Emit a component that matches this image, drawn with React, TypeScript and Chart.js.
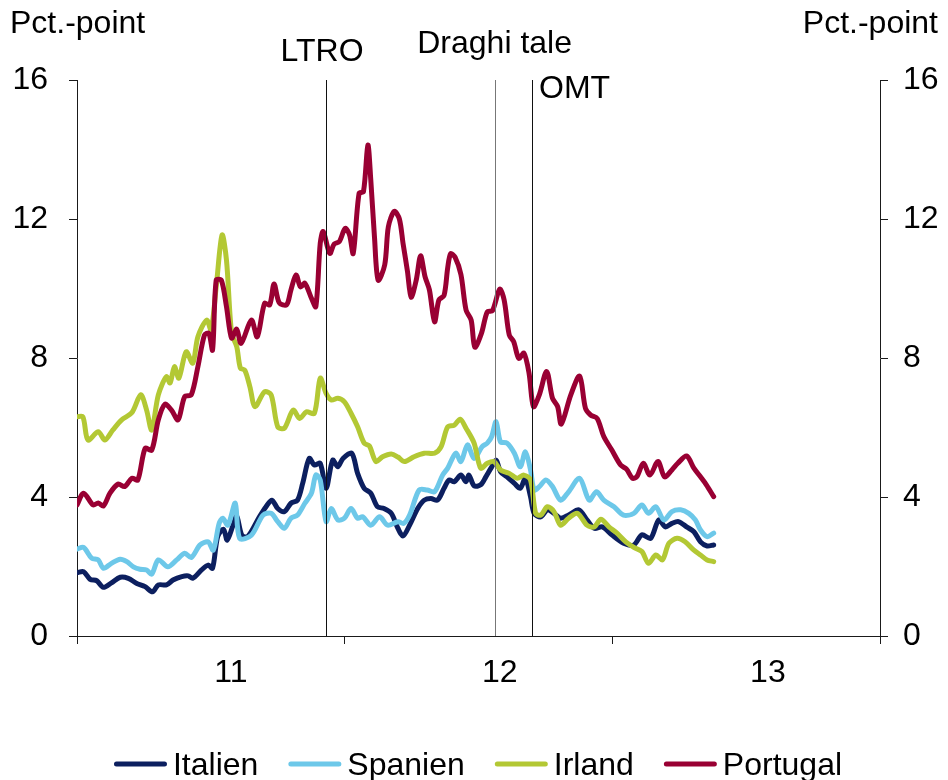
import React, { useEffect, useRef } from "react";
import { Chart, registerables } from "chart.js";

Chart.register(...registerables);

const FONT_FAMILY = "'Liberation Sans', Arial, Helvetica, sans-serif";
const FONT_SIZE = 32;

// x values are days since 2011-01-01
const yearTickDays = [0, 365, 731, 1096];
const yearLabelDays = [210, 577, 943];
const yearLabels = ["11", "12", "13"];
const yTickValues = [0, 4, 8, 12, 16];

const eventNames = ["LTRO", "Draghi tale", "OMT"];
const eventDays = [340, 570, 621];
const eventLineColors = ["#111111", "#777777", "#111111"];

const seriesNames = ["Italien", "Spanien", "Irland", "Portugal"];
const seriesColors = ["#0c1f5f", "#6dc8e9", "#b3c834", "#990033"];

// [day, pct.-point]
const italien: [number, number][] = [
  [0, 1.82], [9, 1.85], [18, 1.63], [27, 1.59], [36, 1.4], [47, 1.53], [59, 1.69], [70, 1.66],
  [81, 1.52], [93, 1.42], [103, 1.27], [111, 1.47], [122, 1.47], [131, 1.61], [143, 1.71],
  [152, 1.73], [158, 1.66], [170, 1.9], [179, 2.04], [185, 1.95], [192, 2.86], [200, 3.07],
  [205, 2.76], [213, 3.19], [218, 3.45], [225, 2.9], [233, 2.86], [249, 3.43], [258, 3.72],
  [266, 3.91], [274, 3.67], [283, 3.58], [292, 3.82], [301, 3.91], [308, 4.39], [317, 5.11],
  [324, 4.92], [332, 4.97], [340, 4.25], [349, 5.06], [356, 4.87], [363, 5.11], [375, 5.26],
  [383, 4.68], [392, 4.25], [401, 4.11], [410, 3.72], [419, 3.67], [429, 3.53], [438, 3.1],
  [445, 2.88], [454, 3.19], [465, 3.67], [474, 3.91], [483, 3.96], [492, 3.91], [501, 4.25],
  [508, 4.49], [515, 4.44], [524, 4.63], [531, 4.44], [535, 4.63], [542, 4.32], [551, 4.35],
  [558, 4.58], [565, 4.83], [572, 5.06], [578, 4.73], [587, 4.58], [597, 4.39], [605, 4.25],
  [612, 4.54], [619, 4.01], [624, 3.53], [633, 3.43], [642, 3.63], [651, 3.53], [660, 3.39],
  [671, 3.48], [685, 3.63], [696, 3.34], [706, 3.1], [717, 3.14], [730, 2.91], [746, 2.67],
  [760, 2.62], [771, 2.91], [783, 2.81], [794, 3.34], [803, 3.14], [812, 3.24], [821, 3.29],
  [832, 3.14], [842, 3.0], [851, 2.71], [860, 2.59], [869, 2.62],
];

const spanien: [number, number][] = [
  [0, 2.5], [9, 2.55], [20, 2.24], [29, 2.19], [36, 1.95], [47, 2.09], [59, 2.21], [68, 2.14],
  [77, 1.99], [86, 1.92], [95, 1.9], [102, 1.78], [111, 2.19], [124, 1.99], [136, 2.19],
  [147, 2.38], [156, 2.26], [168, 2.62], [179, 2.71], [186, 2.47], [194, 3.24], [199, 3.39],
  [206, 3.19], [216, 3.82], [222, 2.81], [238, 2.9], [254, 3.48], [265, 3.53], [274, 3.29],
  [283, 3.1], [292, 3.39], [301, 3.48], [311, 3.82], [320, 4.11], [326, 4.63], [332, 4.49],
  [340, 3.29], [347, 3.67], [356, 3.34], [365, 3.39], [374, 3.67], [383, 3.39], [390, 3.43],
  [401, 3.19], [413, 3.43], [424, 3.19], [438, 3.29], [446, 3.24], [454, 3.48], [467, 4.2],
  [478, 4.2], [488, 4.15], [499, 4.63], [506, 4.83], [517, 5.26], [524, 5.02], [533, 5.5],
  [542, 5.11], [553, 5.45], [560, 5.55], [566, 5.74], [572, 6.17], [578, 5.59], [587, 5.55],
  [597, 5.26], [605, 4.87], [612, 5.3], [619, 4.78], [624, 4.2], [631, 4.3], [640, 4.49],
  [649, 4.3], [660, 3.91], [671, 4.15], [686, 4.54], [699, 3.91], [709, 4.15], [719, 3.91],
  [733, 3.72], [746, 3.48], [760, 3.53], [771, 3.77], [780, 3.53], [790, 3.72], [801, 3.34],
  [812, 3.58], [824, 3.63], [835, 3.53], [844, 3.34], [851, 3.05], [860, 2.86], [869, 2.96],
];

const irland: [number, number][] = [
  [0, 6.31], [8, 6.31], [15, 5.64], [29, 5.88], [38, 5.64], [49, 5.93], [61, 6.22], [75, 6.43],
  [87, 6.94], [95, 6.5], [102, 5.93], [111, 6.94], [122, 7.46], [127, 7.28], [133, 7.75],
  [139, 7.42], [149, 8.18], [158, 7.85], [165, 8.61], [177, 9.09], [183, 8.81], [190, 10.05],
  [198, 11.54], [204, 10.82], [211, 8.72], [218, 8.33], [223, 7.71], [229, 7.65], [236, 7.17],
  [243, 6.6], [256, 7.03], [265, 6.94], [274, 6.02], [283, 5.98], [295, 6.5], [304, 6.26],
  [313, 6.45], [324, 6.41], [332, 7.42], [340, 6.98], [347, 6.79], [356, 6.84], [365, 6.74],
  [374, 6.41], [383, 6.02], [392, 5.55], [399, 5.47], [408, 5.02], [417, 5.16], [429, 5.24],
  [438, 5.15], [447, 5.02], [460, 5.16], [474, 5.26], [488, 5.26], [497, 5.45], [506, 6.02],
  [515, 6.07], [523, 6.24], [531, 5.98], [542, 5.55], [551, 4.83], [560, 4.97], [569, 5.02],
  [578, 4.78], [590, 4.68], [601, 4.54], [610, 4.63], [619, 4.49], [626, 3.53], [633, 3.48],
  [642, 3.72], [651, 3.58], [660, 3.19], [671, 3.39], [683, 3.53], [696, 3.19], [706, 3.14],
  [715, 3.36], [726, 3.14], [737, 2.96], [749, 2.71], [760, 2.55], [771, 2.43], [780, 2.09],
  [790, 2.33], [799, 2.19], [808, 2.67], [819, 2.81], [830, 2.71], [842, 2.47], [851, 2.33],
  [860, 2.19], [869, 2.14],
];

const portugal: [number, number][] = [
  [0, 3.77], [9, 4.11], [22, 3.77], [29, 3.83], [36, 3.74], [45, 4.11], [56, 4.37], [65, 4.3],
  [75, 4.54], [83, 4.49], [93, 5.4], [102, 5.35], [111, 6.22], [120, 6.67], [129, 6.5],
  [138, 6.22], [147, 6.89], [156, 6.94], [165, 7.75], [174, 8.66], [180, 8.71], [185, 8.23],
  [190, 10.24], [197, 10.24], [204, 9.48], [211, 8.57], [218, 8.83], [224, 8.42], [238, 9.09],
  [246, 8.61], [256, 9.57], [263, 9.53], [269, 10.13], [276, 9.59], [286, 9.53], [292, 9.96],
  [299, 10.39], [305, 10.05], [311, 10.15], [320, 9.72], [326, 9.48], [332, 11.3], [336, 11.64],
  [345, 11.01], [351, 11.28], [358, 11.35], [366, 11.73], [372, 11.54], [377, 11.01],
  [385, 12.74], [391, 12.79], [397, 14.13], [401, 13.12], [406, 11.49], [411, 10.24],
  [420, 10.68], [425, 11.78], [433, 12.22], [440, 12.0], [445, 11.3], [451, 10.5], [456, 9.75],
  [463, 10.24], [469, 10.94], [475, 10.34], [481, 9.96], [488, 9.04], [494, 9.67], [501, 9.8],
  [506, 10.6], [510, 11.0], [516, 10.9], [524, 10.4], [531, 9.38], [538, 9.09], [543, 8.31],
  [552, 8.71], [560, 9.33], [567, 9.36], [577, 9.98], [583, 9.67], [590, 8.66], [596, 8.47],
  [603, 7.99], [610, 8.14], [617, 7.56], [623, 6.6], [631, 6.94], [641, 7.61], [649, 6.84],
  [656, 6.6], [661, 6.1], [674, 6.94], [686, 7.48], [694, 6.55], [701, 6.36], [710, 6.26],
  [719, 5.74], [730, 5.35], [742, 4.92], [750, 4.8], [758, 4.54], [764, 4.58], [773, 4.97],
  [782, 4.63], [793, 5.02], [802, 4.58], [812, 4.78], [820, 4.97], [832, 5.18], [842, 4.83],
  [851, 4.58], [859, 4.35], [869, 4.01],
];

const seriesData = [italien, spanien, irland, portugal];

const eventLabelAlign: CanvasTextAlign[] = ["center", "center", "left"];
const eventLabelDx = [-4, 0, 7];
const eventLabelBaseline = [61, 53, 98];

const overlayPlugin = {
  id: "overlay",
  afterDatasetsDraw(chart: any) {
    const { ctx, chartArea, scales } = chart;
    ctx.save();
    eventDays.forEach((d, i) => {
      const px = Math.round(scales.x.getPixelForValue(d)) + 0.5;
      ctx.strokeStyle = eventLineColors[i];
      ctx.lineWidth = 1;
      ctx.beginPath();
      ctx.moveTo(px, chartArea.top);
      ctx.lineTo(px, chartArea.bottom);
      ctx.stroke();
    });
    ctx.restore();
  },
  afterDraw(chart: any) {
    const { ctx, scales, width } = chart;
    ctx.save();
    ctx.font = `${FONT_SIZE}px ${FONT_FAMILY}`;
    ctx.fillStyle = "#000";
    ctx.textBaseline = "alphabetic";
    ctx.textAlign = "left";
    ctx.fillText("Pct.-point", 10, 33);
    ctx.textAlign = "right";
    ctx.fillText("Pct.-point", width - 10, 33);

    eventNames.forEach((name, i) => {
      const px = scales.x.getPixelForValue(eventDays[i]);
      ctx.textAlign = eventLabelAlign[i];
      ctx.fillText(name, px + eventLabelDx[i], eventLabelBaseline[i]);
    });

    // legend
    const lineLen = 53;
    const gap = 6;
    const spacing = 30;
    const widths = seriesNames.map((n) => ctx.measureText(n).width);
    const total =
      widths.reduce((a, w) => a + lineLen + gap + w, 0) + spacing * (seriesNames.length - 1);
    let x = 478 - total / 2;
    const lineY = 764;
    seriesNames.forEach((name, i) => {
      ctx.strokeStyle = seriesColors[i];
      ctx.lineWidth = 5;
      ctx.lineCap = "round";
      ctx.beginPath();
      ctx.moveTo(x + 2.5, lineY);
      ctx.lineTo(x + lineLen - 2.5, lineY);
      ctx.stroke();
      ctx.textAlign = "left";
      ctx.fillStyle = "#000";
      ctx.fillText(name, x + lineLen + gap, 775);
      x += lineLen + gap + widths[i] + spacing;
    });
    ctx.restore();
  },
};

const xTickValues = [...yearTickDays, ...yearLabelDays].sort((a, b) => a - b);

export default function App() {
  const canvasRef = useRef<HTMLCanvasElement | null>(null);

  useEffect(() => {
    if (!canvasRef.current) return;
    const axisColor = "#1a1a1a";
    const tickFont = { family: FONT_FAMILY, size: FONT_SIZE };
    const chart = new Chart(canvasRef.current, {
      type: "line",
      data: {
        datasets: seriesNames.map((name, i) => ({
          label: name,
          data: seriesData[i].map(([d, v]) => ({ x: d, y: v })),
          borderColor: seriesColors[i],
          backgroundColor: seriesColors[i],
          borderWidth: 5,
          pointRadius: 0,
          tension: 0.3,
          borderCapStyle: "round",
          borderJoinStyle: "round",
          fill: false,
          order: seriesNames.length - 1 - i,
          yAxisID: "y",
        })),
      },
      options: {
        animation: false,
        responsive: true,
        maintainAspectRatio: false,
        devicePixelRatio: 1,
        layout: { padding: { top: 80, left: 0, right: 0, bottom: 0 } },
        plugins: {
          legend: { display: false },
          tooltip: { enabled: false },
          title: { display: false },
        },
        scales: {
          x: {
            type: "linear",
            min: 0,
            max: 1096,
            afterBuildTicks: (scale: any) => {
              scale.ticks = xTickValues.map((v) => ({ value: v }));
            },
            afterFit: (scale: any) => {
              scale.height = 144;
            },
            ticks: {
              autoSkip: false,
              maxRotation: 0,
              minRotation: 0,
              padding: 10,
              color: "#000",
              font: tickFont,
              callback: (value: any) => {
                const idx = yearLabelDays.indexOf(Number(value));
                return idx >= 0 ? yearLabels[idx] : "";
              },
            },
            grid: {
              drawOnChartArea: false,
              drawTicks: true,
              tickLength: 8,
              tickColor: (ctx: any) =>
                ctx.tick && yearTickDays.includes(ctx.tick.value) ? axisColor : "rgba(0,0,0,0)",
              color: axisColor,
            },
            border: { display: true, color: axisColor, width: 1 },
          },
          y: {
            type: "linear",
            position: "left",
            min: 0,
            max: 16,
            afterBuildTicks: (scale: any) => {
              scale.ticks = yTickValues.map((v) => ({ value: v }));
            },
            afterFit: (scale: any) => {
              scale.width = 77;
            },
            ticks: { padding: 21, color: "#000", font: tickFont },
            grid: { drawOnChartArea: false, drawTicks: true, tickLength: 8, color: axisColor },
            border: { display: true, color: axisColor, width: 1 },
          },
          yRight: {
            type: "linear",
            position: "right",
            min: 0,
            max: 16,
            afterBuildTicks: (scale: any) => {
              scale.ticks = yTickValues.map((v) => ({ value: v }));
            },
            afterFit: (scale: any) => {
              scale.width = 68;
            },
            ticks: { padding: 15, color: "#000", font: tickFont },
            grid: { drawOnChartArea: false, drawTicks: true, tickLength: 8, color: axisColor },
            border: { display: true, color: axisColor, width: 1 },
          },
        },
      } as any,
      plugins: [overlayPlugin],
    });
    return () => chart.destroy();
  }, []);

  return (
    <div style={{ position: "absolute", left: 0, top: 0, width: 948, height: 780, background: "#fff" }}>
      <canvas ref={canvasRef} />
    </div>
  );
}
